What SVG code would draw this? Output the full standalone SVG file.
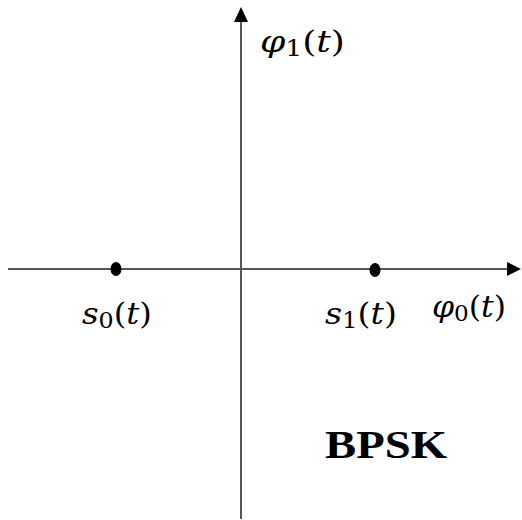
<svg xmlns="http://www.w3.org/2000/svg" width="522" height="520" viewBox="0 0 522 520">
<style>
.ax{stroke:#555;stroke-width:2;fill:none}
.m{font-family:"DejaVu Serif","Liberation Serif",serif;font-size:30px;fill:#000}
.i{font-style:italic}
.sub{font-size:22px}
.b{font-family:"Liberation Serif",serif;font-weight:bold;font-size:39px;fill:#000}
</style>
<rect width="522" height="520" fill="#fff"/>
<g id="connectors">
<line class="ax" x1="8" y1="269" x2="509" y2="269"/>
<path d="M507,262L521,269L507,276z" fill="#000"/>
<line class="ax" x1="241" y1="519" x2="241" y2="20"/>
<path d="M234,22L241,7L248,22z" fill="#000"/>
</g>
<g id="s0">
<ellipse cx="116" cy="269" rx="5.5" ry="7" fill="#000"/>
<text class="m" x="82" y="324" textLength="70" lengthAdjust="spacingAndGlyphs"><tspan class="i">s</tspan><tspan class="sub" dy="4">0</tspan><tspan dy="-4">(</tspan><tspan class="i">t</tspan>)</text>
</g>
<g id="s1">
<ellipse cx="375" cy="270" rx="5.5" ry="7" fill="#000"/>
<text class="m" x="325" y="324" textLength="72" lengthAdjust="spacingAndGlyphs"><tspan class="i">s</tspan><tspan class="sub" dy="4">1</tspan><tspan dy="-4">(</tspan><tspan class="i">t</tspan>)</text>
</g>
<g id="phi0">
<text class="m" x="432" y="317" textLength="74" lengthAdjust="spacingAndGlyphs"><tspan class="i">φ</tspan><tspan class="sub" dy="4">0</tspan><tspan dy="-4">(</tspan><tspan class="i">t</tspan>)</text>
</g>
<g id="phi1">
<text class="m" x="260" y="52" textLength="85" lengthAdjust="spacingAndGlyphs"><tspan class="i">φ</tspan><tspan class="sub" dy="4">1</tspan><tspan dy="-4">(</tspan><tspan class="i">t</tspan>)</text>
</g>
<g id="title">
<text class="b" x="325" y="458" textLength="122" lengthAdjust="spacingAndGlyphs">BPSK</text>
</g>
</svg>
